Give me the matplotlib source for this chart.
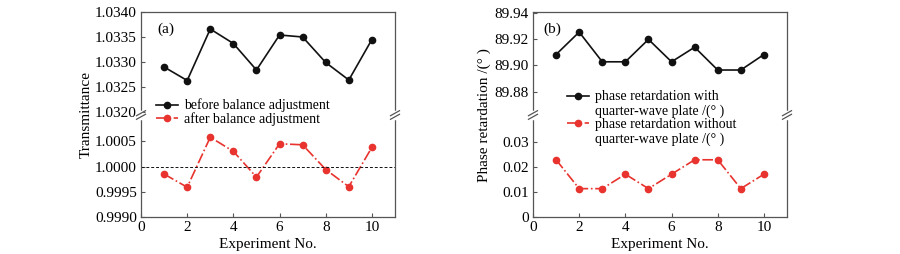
import matplotlib
matplotlib.use('Agg')
import matplotlib.pyplot as plt
from matplotlib.lines import Line2D

plt.rcParams['font.family'] = ['Liberation Serif', 'DejaVu Serif']
plt.rcParams['font.size'] = 10.5

experiments = [1, 2, 3, 4, 5, 6, 7, 8, 9, 10]

# (a) transmittance
trans_before = [1.0329, 1.03263, 1.03366, 1.03337, 1.03284, 1.03354, 1.03350, 1.03299, 1.03264, 1.03345]
trans_after = [0.99985, 0.99959, 1.00058, 1.00030, 0.99979, 1.00045, 1.00043, 0.99994, 0.99960, 1.00038]

# (b) phase retardation
phase_with = [89.9084, 89.9256, 89.9028, 89.9028, 89.9200, 89.9028, 89.9140, 89.8965, 89.8965, 89.9084]
phase_without = [0.0230, 0.0114, 0.0114, 0.0172, 0.0114, 0.0172, 0.0230, 0.0230, 0.0114, 0.0172]

black = '#111111'
red = '#e8332e'
spine_col = '#555555'
fs = 11
lfs = 10

fig = plt.figure(figsize=(9, 2.54), dpi=100)

W = 900.0
H = 254.0
top_px = 12
brk_px = 115
bot_px = 217


def make_panel(left_px, right_px):
    l = left_px / W
    w = (right_px - left_px) / W
    up = fig.add_axes([l, 1 - brk_px / H, w, (brk_px - top_px) / H])
    lo = fig.add_axes([l, 1 - bot_px / H, w, (bot_px - brk_px) / H])
    for ax in (up, lo):
        ax.set_xlim(0, 11)
        for s in ax.spines.values():
            s.set_color(spine_col)
            s.set_linewidth(0.9)
        ax.tick_params(direction='in', length=3, width=0.8, color=spine_col, labelsize=fs, pad=3)
    up.spines['bottom'].set_visible(False)
    lo.spines['top'].set_visible(False)
    up.tick_params(bottom=False, labelbottom=False)
    lo.set_xticks([0, 2, 4, 6, 8, 10])
    lo.set_xlabel('Experiment No.', fontsize=fs, labelpad=2.5)
    # break marks
    for xf in (0, 1):
        x = left_px + xf * (right_px - left_px)
        gap = 3
        fig.add_artist(Line2D([x / W, x / W], [1 - (brk_px - gap) / H, 1 - (brk_px + gap) / H],
                              color='white', lw=2.5, transform=fig.transFigure, zorder=10))
        for dy in (-1.8, 1.8):
            yc = brk_px + dy
            fig.add_artist(Line2D([(x - 4.5) / W, (x + 4.5) / W], [1 - (yc + 2.5) / H, 1 - (yc - 2.5) / H],
                                  color=spine_col, lw=0.9, transform=fig.transFigure, zorder=11))
    return up, lo


h_black = Line2D([], [], color=black, marker='o', ms=4.5, lw=1.2)
h_red = Line2D([], [], color=red, ls='-.', marker='o', ms=4.5, lw=1.2)
h_none = Line2D([], [], color='none')

# panel (a)
ua, la = make_panel(141, 395)
ua.plot(experiments, trans_before, '-', color=black, marker='o', ms=4.5, lw=1.2)
la.plot(experiments, trans_after, '-.', color=red, marker='o', ms=4.5, lw=1.2)
la.axhline(1.0, color=black, ls='--', lw=0.7, dashes=(3, 2))
ua.set_ylim(1.03194, 1.0340)
ua.set_yticks([1.0320, 1.0325, 1.0330, 1.0335, 1.0340])
ua.set_yticklabels(['1.0320', '1.0325', '1.0330', '1.0335', '1.0340'])
la.set_ylim(0.9990, 1.00102)
la.set_yticks([0.9990, 0.9995, 1.0000, 1.0005])
la.set_yticklabels(['0.9990', '0.9995', '1.0000', '1.0005'])
ua.text(0.063, 0.9, '(a)', transform=ua.transAxes, fontsize=fs, va='top')
fig.text(86 / W, 1 - 115 / H, 'Transmittance', rotation=90, ha='center', va='center', fontsize=fs)
fig.legend([h_black, h_red], ['before balance adjustment', 'after balance adjustment'],
           loc='center left', bbox_to_anchor=(156 / W, 1 - 112.5 / H), frameon=False,
           fontsize=lfs, handlelength=1.6, handletextpad=0.45, labelspacing=0.0,
           borderpad=0, borderaxespad=0)

# panel (b)
ub, lb = make_panel(533, 787)
ub.plot(experiments, phase_with, '-', color=black, marker='o', ms=4.5, lw=1.2)
lb.plot(experiments, phase_without, '-.', color=red, marker='o', ms=4.5, lw=1.2)
ub.set_ylim(89.862, 89.941)
ub.set_yticks([89.88, 89.90, 89.92, 89.94])
ub.set_yticklabels(['89.88', '89.90', '89.92', '89.94'])
lb.set_ylim(0, 0.041)
lb.set_yticks([0, 0.01, 0.02, 0.03])
lb.set_yticklabels(['0', '0.01', '0.02', '0.03'])
ub.text(0.04, 0.9, '(b)', transform=ub.transAxes, fontsize=fs, va='top')
fig.text(484 / W, 1 - 115 / H, 'Phase retardation /(° )', rotation=90, ha='center', va='center', fontsize=fs)
fig.legend([h_black, h_none, h_red, h_none],
           ['phase retardation with', 'quarter-wave plate /(° )',
            'phase retardation without', 'quarter-wave plate /(° )'],
           loc='center left', bbox_to_anchor=(567 / W, 1 - 118 / H), frameon=False,
           fontsize=lfs, handlelength=1.6, handletextpad=0.45, labelspacing=0.05,
           borderpad=0, borderaxespad=0)

fig.savefig('out.png', dpi=100)
